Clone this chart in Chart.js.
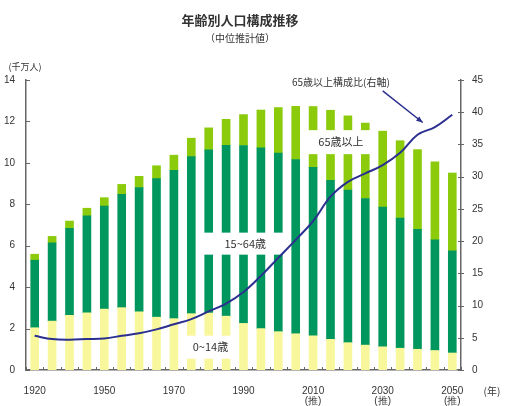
<!DOCTYPE html>
<html lang="ja">
<head>
<meta charset="utf-8">
<title>年齢別人口構成推移</title>
<script src="https://cdn.jsdelivr.net/npm/chart.js@4.4.1/dist/chart.umd.min.js"></script>
<style>
  html, body { margin: 0; padding: 0; background: #fff; }
  #wrap { width: 519px; height: 406px; }
</style>
</head>
<body>
<div id="wrap"><canvas id="popChart" width="519" height="406"></canvas></div>
<script>
// Data (千万人 for the bars, % for the line)
const years = [1920, 1930, 1940, 1947, 1950, 1955, 1960, 1965, 1970, 1975, 1980, 1985, 1990,
               1995, 2000, 2005, 2010, 2015, 2020, 2025, 2030, 2035, 2040, 2045, 2050];
const age0to14 = [2.04, 2.36, 2.64, 2.76, 2.94, 3.01, 2.81, 2.55, 2.48, 2.72, 2.75, 2.60, 2.25,
                  2.00, 1.85, 1.75, 1.65, 1.48, 1.32, 1.20, 1.12, 1.05, 1.00, 0.94, 0.82];
const age15to64 = [3.26, 3.78, 4.20, 4.68, 4.97, 5.47, 6.00, 6.69, 7.16, 7.58, 7.88, 8.25, 8.59,
                   8.72, 8.62, 8.41, 8.13, 7.68, 7.36, 7.08, 6.74, 6.29, 5.79, 5.35, 4.93];
const age65plus = [0.29, 0.31, 0.35, 0.37, 0.41, 0.48, 0.54, 0.62, 0.73, 0.89, 1.06, 1.25, 1.49,
                   1.83, 2.20, 2.57, 2.94, 3.38, 3.59, 3.64, 3.67, 3.73, 3.85, 3.76, 3.76];
const elderlyRatio = [5.3, 4.8, 4.7, 4.8, 4.9, 5.3, 5.7, 6.3, 7.1, 7.9, 9.1, 10.3, 12.1,
                      14.6, 17.4, 20.2, 23.1, 26.9, 29.2, 30.5, 31.8, 33.7, 36.5, 37.7, 39.6];
const labeledYears = [1920, 1950, 1970, 1990, 2010, 2030, 2050];
const projectedFrom = 2010;

const CJK = '"Noto Sans CJK JP", "Noto Sans", sans-serif';
const NUM = '"Liberation Sans", Arial, sans-serif';

// Labels drawn on the plot (white box hides the bars behind)
const boxLabels = [
  { text: '15~64歳', xIndex: 12.1, yValue: 6.1, w: 83, h: 22 },
  { text: '65歳以上', xIndex: 17.6, yValue: 11.0, w: 70, h: 24 },
  { text: '0~14歳', xIndex: 10.1, yValue: 1.1, w: 54, h: 23 }
];

const labelBoxes = {
  id: 'labelBoxes',
  beforeDatasetDraw(chart, args) {
    if (args.index !== 3) return;
    const { ctx, scales: { x, y } } = chart;
    ctx.save();
    ctx.font = '11px ' + CJK;
    ctx.textAlign = 'center';
    ctx.textBaseline = 'middle';
    boxLabels.forEach(l => {
      const px = x.getPixelForValue(l.xIndex);
      const py = y.getPixelForValue(l.yValue);
      ctx.fillStyle = '#fff';
      ctx.fillRect(px - l.w / 2, py - l.h / 2, l.w, l.h);
      ctx.fillStyle = '#333';
      ctx.fillText(l.text, px, py);
    });
    ctx.restore();
  }
};

const decorations = {
  id: 'decorations',
  afterDraw(chart) {
    const { ctx, chartArea: a, scales: { x, y, y1 } } = chart;
    ctx.save();
    // titles
    ctx.fillStyle = '#333';
    ctx.textAlign = 'center';
    ctx.textBaseline = 'middle';
    ctx.font = 'bold 13px ' + CJK;
    ctx.fillText('年齢別人口構成推移', 240, 20);
    ctx.font = '10px ' + CJK;
    ctx.fillText('（中位推計値）', 240, 38);
    ctx.font = '9px ' + CJK;
    ctx.fillText('(千万人)', 25, 67);
    ctx.font = '10px ' + CJK;
    ctx.fillText('(年)', 492, 391);

    // inward tick marks
    ctx.strokeStyle = '#666';
    ctx.lineWidth = 1;
    ctx.beginPath();
    y.ticks.forEach(t => {
      const py = Math.round(y.getPixelForValue(t.value)) + 0.5;
      ctx.moveTo(a.left, py); ctx.lineTo(a.left + 4, py);
    });
    y1.ticks.forEach(t => {
      const py = Math.round(y1.getPixelForValue(t.value)) + 0.5;
      ctx.moveTo(a.right - 3, py); ctx.lineTo(a.right + 3, py);
    });
    for (let i = 0; i <= years.length; i++) {
      const px = Math.round(x.getPixelForValue(i - 0.5)) + 0.5;
      ctx.moveTo(px, a.bottom); ctx.lineTo(px, a.bottom - 3);
    }
    ctx.stroke();

    // right-axis callout
    ctx.fillStyle = '#333';
    ctx.font = '10px ' + CJK;
    ctx.fillText('65歳以上構成比(右軸)', x.getPixelForValue(17.6), y1.getPixelForValue(44.6));
    const x0 = x.getPixelForValue(20.0), y0 = y1.getPixelForValue(43.3);
    const x2 = x.getPixelForValue(22.3), y2 = y1.getPixelForValue(38.4);
    ctx.strokeStyle = '#2b2f8f';
    ctx.lineWidth = 1.5;
    ctx.beginPath();
    ctx.moveTo(x0, y0); ctx.lineTo(x2, y2);
    ctx.stroke();
    const ang = Math.atan2(y2 - y0, x2 - x0);
    ctx.fillStyle = '#2b2f8f';
    ctx.beginPath();
    ctx.moveTo(x2, y2);
    ctx.lineTo(x2 - 7 * Math.cos(ang - 0.4), y2 - 7 * Math.sin(ang - 0.4));
    ctx.lineTo(x2 - 7 * Math.cos(ang + 0.4), y2 - 7 * Math.sin(ang + 0.4));
    ctx.closePath();
    ctx.fill();
    ctx.restore();
  }
};

const ctx = document.getElementById('popChart').getContext('2d');
new Chart(ctx, {
  data: {
    labels: years,
    datasets: [
      { type: 'bar', label: '0~14歳', data: age0to14, backgroundColor: '#f8f79c', order: 1 },
      { type: 'bar', label: '15~64歳', data: age15to64, backgroundColor: '#00975f', order: 1 },
      { type: 'bar', label: '65歳以上', data: age65plus, backgroundColor: '#8ccb0c', order: 1 },
      {
        type: 'line', label: '65歳以上構成比', data: elderlyRatio, yAxisID: 'y1',
        borderColor: '#2b2f8f', borderWidth: 2, tension: 0.4, pointRadius: 0, fill: false, order: 0
      }
    ]
  },
  options: {
    responsive: false,
    animation: false,
    devicePixelRatio: 1,
    layout: { padding: { top: 80, left: 0, right: 0, bottom: 0 } },
    datasets: { bar: { barThickness: 8 } },
    plugins: { legend: { display: false }, tooltip: { enabled: false } },
    scales: {
      x: {
        stacked: true,
        grid: { display: false },
        border: { display: true, color: '#666', width: 1.5 },
        ticks: {
          autoSkip: false, maxRotation: 0, padding: 8,
          color: '#333', font: { family: NUM, size: 10, lineHeight: 1 },
          callback: (v, i) => {
            const yr = years[i];
            if (!labeledYears.includes(yr)) return '';
            return yr >= projectedFrom ? [String(yr), '(推)'] : String(yr);
          }
        },
        afterFit: s => { s.height = 36; }
      },
      y: {
        stacked: true, min: 0, max: 14,
        grid: { display: false, drawTicks: false },
        border: { display: true, color: '#666', width: 1.5 },
        ticks: { stepSize: 2, padding: 11, color: '#333', font: { family: NUM, size: 10 } },
        afterFit: s => { s.width = 26; }
      },
      y1: {
        position: 'right', min: 0, max: 45,
        grid: { display: false, drawTicks: false },
        border: { display: true, color: '#666', width: 1.5 },
        ticks: { stepSize: 5, padding: 11, color: '#333', font: { family: NUM, size: 10 } },
        afterFit: s => { s.width = 58; }
      }
    }
  },
  plugins: [labelBoxes, decorations]
});
</script>
</body>
</html>
